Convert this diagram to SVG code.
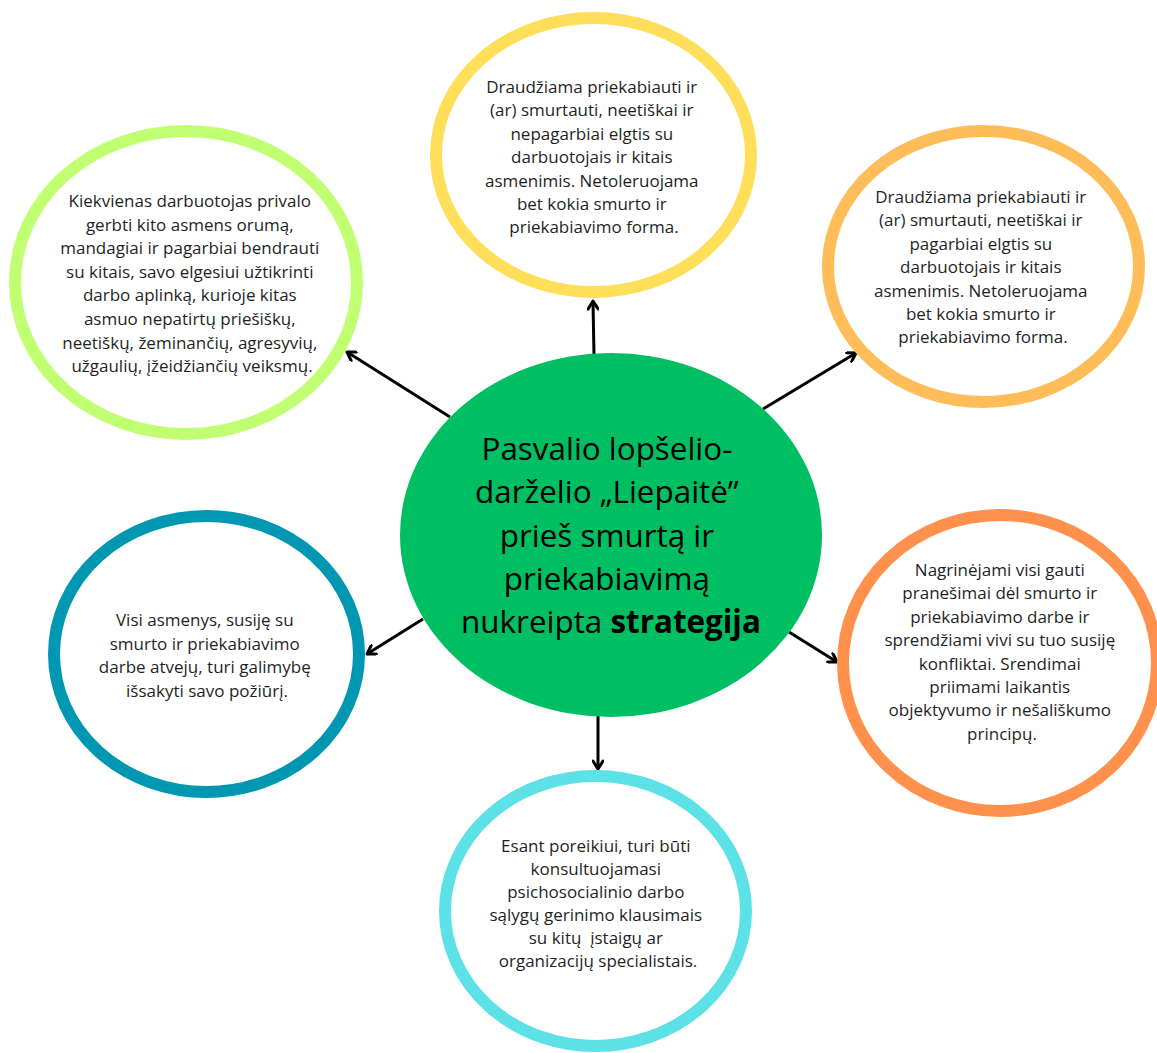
<svg xmlns="http://www.w3.org/2000/svg" width="1157" height="1053" viewBox="0 0 1157 1053">
  <defs>
    <style>
      .ring { fill: #ffffff; stroke-width: 12; }
      .note { font-family: "Open Sans", "Noto Sans", "DejaVu Sans", sans-serif; font-size: 17px; fill: #1f1f1f; text-anchor: middle; }
      .title { font-family: "Open Sans", "Noto Sans", "DejaVu Sans", sans-serif; font-size: 31.4px; fill: #000000; text-anchor: middle; }
      .link { stroke: #000000; stroke-width: 3; fill: none; marker-end: url(#arrow); }
    </style>
    <marker id="arrow" viewBox="0 0 12 12" refX="10" refY="6" markerWidth="12" markerHeight="12" markerUnits="userSpaceOnUse" orient="auto">
      <path d="M2,1 L10,6 L2,11" fill="none" stroke="#000000" stroke-width="3" stroke-linecap="round" stroke-linejoin="round"/>
    </marker>
  </defs>

  <rect width="1157" height="1053" fill="#ffffff"/>

  <!-- connectors from the central strategy node -->
  <g id="connectors">
    <line class="link" x1="594" y1="356" x2="593" y2="301"/>
    <line class="link" x1="450" y1="417" x2="347" y2="352"/>
    <line class="link" x1="763" y1="409" x2="856" y2="353"/>
    <line class="link" x1="789" y1="632" x2="837" y2="662"/>
    <line class="link" x1="423" y1="619" x2="367" y2="654"/>
    <line class="link" x1="598" y1="716" x2="598" y2="769"/>
  </g>

  <!-- central node -->
  <g id="node-center">
    <ellipse cx="611" cy="535" rx="211" ry="182" fill="#00bf63"/>
    <text class="title">
      <tspan x="611" y="460">Pasvalio lopšelio-</tspan>
      <tspan x="611" y="503">darželio „Liepaitė”</tspan>
      <tspan x="611" y="547">prieš smurtą ir</tspan>
      <tspan x="611" y="590">priekabiavimą</tspan>
      <tspan x="611" y="633">nukreipta <tspan font-weight="bold">strategija</tspan></tspan>
    </text>
  </g>

  <!-- upper left: respect -->
  <g id="node-respect">
    <ellipse class="ring" cx="186" cy="282.5" rx="171" ry="151.5" stroke="#c1ff72"/>
    <text class="note">
      <tspan x="192" y="207">Kiekvienas darbuotojas privalo</tspan>
      <tspan x="192" y="230.6">gerbti kito asmens orumą,</tspan>
      <tspan x="192" y="254.2">mandagiai ir pagarbiai bendrauti</tspan>
      <tspan x="192" y="277.8">su kitais, savo elgesiui užtikrinti</tspan>
      <tspan x="192" y="301.4">darbo aplinką, kurioje kitas</tspan>
      <tspan x="192" y="325">asmuo nepatirtų priešiškų,</tspan>
      <tspan x="192" y="348.6">neetiškų, žeminančių, agresyvių,</tspan>
      <tspan x="192" y="372.2">užgaulių, įžeidžiančių veiksmų.</tspan>
    </text>
  </g>

  <!-- top: prohibition -->
  <g id="node-prohibition-top">
    <ellipse class="ring" cx="593.5" cy="155" rx="157.5" ry="137" stroke="#ffde59"/>
    <text class="note">
      <tspan x="594" y="93">Draudžiama priekabiauti ir</tspan>
      <tspan x="594" y="116.4">(ar) smurtauti, neetiškai ir</tspan>
      <tspan x="594" y="139.8">nepagarbiai elgtis su</tspan>
      <tspan x="594" y="163.2">darbuotojais ir kitais</tspan>
      <tspan x="594" y="186.6">asmenimis. Netoleruojama</tspan>
      <tspan x="594" y="210">bet kokia smurto ir</tspan>
      <tspan x="594" y="233.4">priekabiavimo forma.</tspan>
    </text>
  </g>

  <!-- upper right: prohibition -->
  <g id="node-prohibition-right">
    <ellipse class="ring" cx="983.5" cy="266.5" rx="155.5" ry="135.5" stroke="#ffbd59"/>
    <text class="note">
      <tspan x="983" y="203">Draudžiama priekabiauti ir</tspan>
      <tspan x="983" y="226.4">(ar) smurtauti, neetiškai ir</tspan>
      <tspan x="983" y="249.8">pagarbiai elgtis su</tspan>
      <tspan x="983" y="273.2">darbuotojais ir kitais</tspan>
      <tspan x="983" y="296.6">asmenimis. Netoleruojama</tspan>
      <tspan x="983" y="320">bet kokia smurto ir</tspan>
      <tspan x="983" y="343.4">priekabiavimo forma.</tspan>
    </text>
  </g>

  <!-- lower right: reports -->
  <g id="node-reports">
    <ellipse class="ring" cx="1000" cy="663" rx="157" ry="148" stroke="#ff914d"/>
    <text class="note">
      <tspan x="1002" y="576">Nagrinėjami visi gauti</tspan>
      <tspan x="1002" y="599.4">pranešimai dėl smurto ir</tspan>
      <tspan x="1002" y="622.8">priekabiavimo darbe ir</tspan>
      <tspan x="1002" y="646.2">sprendžiami vivi su tuo susiję</tspan>
      <tspan x="1002" y="669.6">konfliktai. Srendimai</tspan>
      <tspan x="1002" y="693">priimami laikantis</tspan>
      <tspan x="1002" y="716.4">objektyvumo ir nešališkumo</tspan>
      <tspan x="1002" y="739.8">principų.</tspan>
    </text>
  </g>

  <!-- bottom: consultation -->
  <g id="node-consultation">
    <ellipse class="ring" cx="595.5" cy="911" rx="150.5" ry="135" stroke="#5ce1e6"/>
    <text class="note">
      <tspan x="598" y="852">Esant poreikiui, turi būti</tspan>
      <tspan x="598" y="875">konsultuojamasi</tspan>
      <tspan x="598" y="898">psichosocialinio darbo</tspan>
      <tspan x="598" y="921">sąlygų gerinimo klausimais</tspan>
      <tspan x="598" y="944" xml:space="preserve">su kitų  įstaigų ar</tspan>
      <tspan x="598" y="967">organizacijų specialistais.</tspan>
    </text>
  </g>

  <!-- lower left: opinion -->
  <g id="node-opinion">
    <ellipse class="ring" cx="206.5" cy="654" rx="152.5" ry="138" stroke="#0097b2"/>
    <text class="note">
      <tspan x="207" y="626">Visi asmenys, susiję su</tspan>
      <tspan x="207" y="649.6">smurto ir priekabiavimo</tspan>
      <tspan x="207" y="673.2">darbe atvejų, turi galimybę</tspan>
      <tspan x="207" y="696.8">išsakyti savo požiūrį.</tspan>
    </text>
  </g>
</svg>
